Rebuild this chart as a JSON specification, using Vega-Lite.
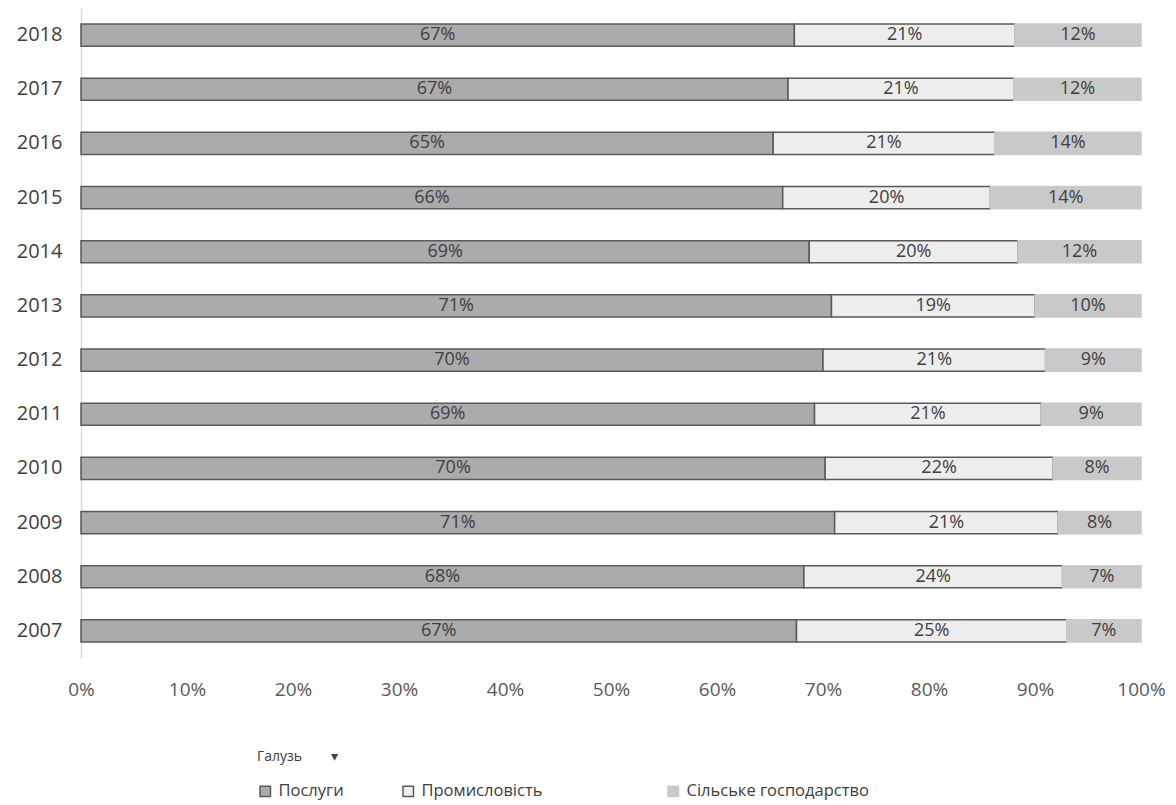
{
  "$schema": "https://vega.github.io/schema/vega-lite/v6.json",
  "width": 1060,
  "height": 650,
  "autosize": {"type": "none"},
  "padding": {"left": 81, "top": 8, "right": 35, "bottom": 147},
  "background": "white",
  "config": {
    "view": {"stroke": null},
    "font": "Open Sans",
    "text": {"font": "Open Sans"}
  },
  "data": {
    "values": [
      {"year": "2018", "sector": "Послуги", "value": 67.3, "label": "67%", "ord": 1},
      {"year": "2018", "sector": "Промисловість", "value": 20.8, "label": "21%", "ord": 2},
      {"year": "2018", "sector": "Сільське господарство", "value": 11.9, "label": "12%", "ord": 3},
      {"year": "2017", "sector": "Послуги", "value": 66.7, "label": "67%", "ord": 1},
      {"year": "2017", "sector": "Промисловість", "value": 21.3, "label": "21%", "ord": 2},
      {"year": "2017", "sector": "Сільське господарство", "value": 12.0, "label": "12%", "ord": 3},
      {"year": "2016", "sector": "Послуги", "value": 65.3, "label": "65%", "ord": 1},
      {"year": "2016", "sector": "Промисловість", "value": 20.9, "label": "21%", "ord": 2},
      {"year": "2016", "sector": "Сільське господарство", "value": 13.8, "label": "14%", "ord": 3},
      {"year": "2015", "sector": "Послуги", "value": 66.2, "label": "66%", "ord": 1},
      {"year": "2015", "sector": "Промисловість", "value": 19.6, "label": "20%", "ord": 2},
      {"year": "2015", "sector": "Сільське господарство", "value": 14.2, "label": "14%", "ord": 3},
      {"year": "2014", "sector": "Послуги", "value": 68.7, "label": "69%", "ord": 1},
      {"year": "2014", "sector": "Промисловість", "value": 19.7, "label": "20%", "ord": 2},
      {"year": "2014", "sector": "Сільське господарство", "value": 11.6, "label": "12%", "ord": 3},
      {"year": "2013", "sector": "Послуги", "value": 70.8, "label": "71%", "ord": 1},
      {"year": "2013", "sector": "Промисловість", "value": 19.2, "label": "19%", "ord": 2},
      {"year": "2013", "sector": "Сільське господарство", "value": 10.0, "label": "10%", "ord": 3},
      {"year": "2012", "sector": "Послуги", "value": 70.0, "label": "70%", "ord": 1},
      {"year": "2012", "sector": "Промисловість", "value": 21.0, "label": "21%", "ord": 2},
      {"year": "2012", "sector": "Сільське господарство", "value": 9.0, "label": "9%", "ord": 3},
      {"year": "2011", "sector": "Послуги", "value": 69.2, "label": "69%", "ord": 1},
      {"year": "2011", "sector": "Промисловість", "value": 21.4, "label": "21%", "ord": 2},
      {"year": "2011", "sector": "Сільське господарство", "value": 9.4, "label": "9%", "ord": 3},
      {"year": "2010", "sector": "Послуги", "value": 70.2, "label": "70%", "ord": 1},
      {"year": "2010", "sector": "Промисловість", "value": 21.5, "label": "22%", "ord": 2},
      {"year": "2010", "sector": "Сільське господарство", "value": 8.3, "label": "8%", "ord": 3},
      {"year": "2009", "sector": "Послуги", "value": 71.1, "label": "71%", "ord": 1},
      {"year": "2009", "sector": "Промисловість", "value": 21.1, "label": "21%", "ord": 2},
      {"year": "2009", "sector": "Сільське господарство", "value": 7.8, "label": "8%", "ord": 3},
      {"year": "2008", "sector": "Послуги", "value": 68.2, "label": "68%", "ord": 1},
      {"year": "2008", "sector": "Промисловість", "value": 24.4, "label": "24%", "ord": 2},
      {"year": "2008", "sector": "Сільське господарство", "value": 7.4, "label": "7%", "ord": 3},
      {"year": "2007", "sector": "Послуги", "value": 67.5, "label": "67%", "ord": 1},
      {"year": "2007", "sector": "Промисловість", "value": 25.5, "label": "25%", "ord": 2},
      {"year": "2007", "sector": "Сільське господарство", "value": 7.0, "label": "7%", "ord": 3}
    ]
  },
  "encoding": {
    "y": {
      "field": "year",
      "type": "ordinal",
      "sort": "descending",
      "scale": {"paddingInner": 0.59, "paddingOuter": 0.295},
      "axis": {
        "title": null,
        "ticks": false,
        "domain": true,
        "domainColor": "#d9d9d9",
        "domainWidth": 1.5,
        "labelFontSize": 20,
        "labelColor": "#404040",
        "labelPadding": 19
      }
    }
  },
  "layer": [
    {
      "mark": {"type": "bar", "strokeWidth": 1.5},
      "encoding": {
        "x": {
          "field": "value",
          "type": "quantitative",
          "stack": "zero",
          "scale": {"domain": [0, 100], "nice": false},
          "axis": {
            "title": null,
            "values": [0, 10, 20, 30, 40, 50, 60, 70, 80, 90, 100],
            "labelExpr": "datum.value + '%'",
            "grid": false,
            "ticks": false,
            "domain": false,
            "labelFontSize": 19,
            "labelColor": "#595959",
            "labelPadding": 22,
            "labelFlush": false
          }
        },
        "fill": {
          "field": "sector",
          "type": "nominal",
          "title": "Галузь\u00a0\u00a0\u00a0\u00a0\u00a0\u00a0\u00a0\u00a0▾",
          "scale": {
            "domain": ["Послуги", "Промисловість", "Сільське господарство"],
            "range": ["#ababab", "#ededed", "#c9c9c9"]
          },
          "legend": {
            "orient": "none",
            "legendX": 176,
            "legendY": 742,
            "direction": "horizontal",
            "columns": 3,
            "titleFontSize": 14,
            "titleFontWeight": "normal",
            "titleColor": "#404040",
            "titlePadding": 19,
            "symbolType": "square",
            "symbolSize": 110,
            "symbolStrokeWidth": 1.5,
            "labelFontSize": 16.5,
            "labelColor": "#404040",
            "labelOffset": 5,
            "labelLimit": 0,
            "columnPadding": 56,
            "labelExpr": "datum.label == 'Промисловість' ? datum.label + '\u2007\u2007\u2007\u2007\u2007\u2007\u2007\u200b' : datum.label"
          }
        },
        "stroke": {
          "field": "sector",
          "type": "nominal",
          "title": "Галузь\u00a0\u00a0\u00a0\u00a0\u00a0\u00a0\u00a0\u00a0▾",
          "scale": {
            "domain": ["Послуги", "Промисловість", "Сільське господарство"],
            "range": ["#5a5a5a", "#5a5a5a", "#c9c9c9"]
          }
        },
        "order": {"field": "ord", "type": "quantitative"}
      }
    },
    {
      "mark": {"type": "text", "fontSize": 18, "color": "#404040", "baseline": "middle"},
      "encoding": {
        "x": {
          "field": "value",
          "type": "quantitative",
          "stack": "zero",
          "bandPosition": 0.5
        },
        "text": {"field": "label", "type": "nominal"},
        "order": {"field": "ord", "type": "quantitative"}
      }
    }
  ]
}
